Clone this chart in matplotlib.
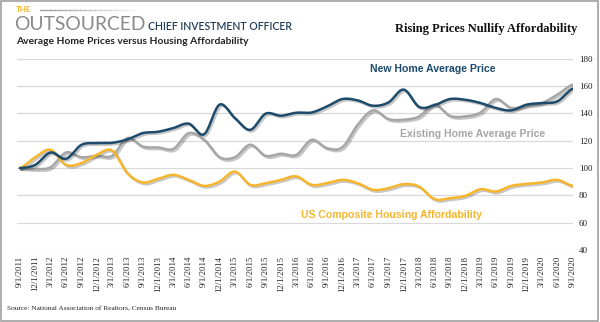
import numpy as np
import matplotlib.pyplot as plt
from matplotlib import patheffects as pe
from matplotlib.lines import Line2D
from matplotlib.patches import Rectangle

quarters = ["9/1/2011", "12/1/2011", "3/1/2012", "6/1/2012", "9/1/2012", "12/1/2012",
            "3/1/2013", "6/1/2013", "9/1/2013", "12/1/2013", "3/1/2014", "6/1/2014",
            "9/1/2014", "12/1/2014", "3/1/2015", "6/1/2015", "9/1/2015", "12/1/2015",
            "3/1/2016", "6/1/2016", "9/1/2016", "12/1/2016", "3/1/2017", "6/1/2017",
            "9/1/2017", "12/1/2017", "3/1/2018", "6/1/2018", "9/1/2018", "12/1/2018",
            "3/1/2019", "6/1/2019", "9/1/2019", "12/1/2019", "3/1/2020", "6/1/2020",
            "9/1/2020"]

new_home = [100, 102.4, 111.4, 106.8, 117, 118.3, 118.5, 121, 125.6, 126.6,
            129.3, 132.5, 124.8, 146.4, 136.6, 128, 139.8, 138.3, 140.5, 140.7,
            145.1, 150.5, 149.5, 145.6, 148, 157.4, 144.7, 146, 150.5, 150,
            147.6, 144, 142.2, 146.4, 147.6, 148.8, 158]

existing_home = [100, 99.3, 100.7, 111.4, 108, 109, 109, 122, 115.8, 115.1,
                 114.1, 125.6, 120.7, 108, 108, 117.1, 109, 110.5, 109.7, 120.7,
                 114.6, 115.3, 131.7, 142.2, 135.9, 135.4, 137.8, 146.4, 138.3, 137.8,
                 140.7, 150.5, 144, 145.6, 147.6, 153.7, 161]

affordability = [100, 108, 113.4, 102.4, 103.7, 109.7, 112.9, 96.3, 89.5, 92.2,
                 95.1, 91.4, 87, 90.2, 97.5, 87.8, 89, 91.4, 94, 87.8,
                 89, 91.4, 89, 84.1, 85.3, 88.3, 86.5, 77.3, 78, 79.7,
                 84.6, 82.9, 87, 88.5, 89.5, 91.4, 87]

y_ticks = [40, 60, 80, 100, 120, 140, 160, 180]

NAVY = "#1d4b6b"
GRAY = "#a6a6a6"
GOLD = "#f7b52c"


def smooth(vals, steps=16):
    # Catmull-Rom curve through every point (like Excel's "smoothed line")
    y = np.asarray(vals, float)
    p = np.concatenate([[y[0]], y, [y[-1]]])
    t = np.linspace(0, 1, steps, endpoint=False)
    xs, ys = [], []
    for i in range(len(y) - 1):
        p0, p1, p2, p3 = p[i:i + 4]
        ys.append(0.5 * (2 * p1 + (p2 - p0) * t
                         + (2 * p0 - 5 * p1 + 4 * p2 - p3) * t ** 2
                         + (3 * p1 - p0 - 3 * p2 + p3) * t ** 3))
        xs.append(i + t)
    xs.append([len(y) - 1])
    ys.append([y[-1]])
    return np.concatenate(xs), np.concatenate(ys)


fig = plt.figure(figsize=(6, 3.22), dpi=100)
W, H = 600, 322

def fx(px):
    return px / W

def fy(py):
    return 1 - py / H

ax = fig.add_axes([fx(17.3), fy(250.2), (573.3 - 17.3) / W, (250.2 - 58.7) / H])

shadow = [pe.SimpleLineShadow(offset=(1.2, -1.2), shadow_color="k", alpha=0.22),
          pe.Normal()]
for vals, col in [(existing_home, GRAY), (affordability, GOLD), (new_home, NAVY)]:
    sx, sy = smooth(vals)
    ax.plot(sx, sy, color=col, lw=1.8, solid_capstyle="round", path_effects=shadow, zorder=3)

ax.set_xlim(-0.17, 36.04)
ax.set_ylim(40, 180)
ax.set_yticks(y_ticks)
ax.yaxis.tick_right()
ax.set_xticks(range(len(quarters)))
ax.set_xticklabels(quarters, rotation=90, fontsize=6.3, family="Liberation Serif", color="#222")
ax.tick_params(axis="x", length=0, pad=4)
ax.tick_params(axis="y", length=0, pad=4, labelsize=6.5, labelcolor="#222")
for lab in ax.get_yticklabels():
    lab.set_family("Liberation Serif")
ax.grid(axis="y", color="#d9d9d9", lw=0.9)
ax.set_axisbelow(True)
for s in ax.spines.values():
    s.set_visible(False)

# series labels
lab_kw = dict(transform=fig.transFigure, ha="center", va="center", fontsize=7.6,
              fontweight="bold", family="Liberation Sans")
ax.text(fx(433), fy(68.5), "New Home Average Price", color=NAVY, **lab_kw)
ax.text(fx(473), fy(134), "Existing Home Average Price", color=GRAY, **lab_kw)
ax.text(fx(392), fy(215), "US Composite Housing Affordability", color=GOLD, **lab_kw)

# header
fig.text(fx(16), fy(10), "THE", color="#f0b323", fontsize=5.8, fontweight="bold",
         family="Lato", va="center")
for k in range(20):
    x0 = 40 + k * 5
    fig.add_artist(Line2D([fx(x0), fx(x0 + 5)], [fy(10), fy(10)], color="#9a9a9a",
                          lw=1, alpha=0.9 * (1 - k / 20)))
fig.text(fx(14), fy(30), "OUTSOURCED", color="#8a8a8a", fontsize=13.9, family="Lato",
         fontweight="normal", va="baseline")
fig.text(fx(148), fy(30), "CHIEF INVESTMENT OFFICER", color="#1f3a55", fontsize=7.6,
         family="Lato", fontweight="semibold", va="baseline")
fig.text(fx(16), fy(41), "Average Home Prices versus Housing Affordability", color="#222",
         fontsize=7.4, family="Lato", fontweight="bold", va="center")
fig.text(fx(577), fy(29), "Rising Prices Nullify Affordability", color="#111",
         fontsize=9, family="Liberation Serif", fontweight="bold", va="center", ha="right")
fig.text(fx(7), fy(309), "Source: National Association of Realtors, Census Bureau",
         color="#222", fontsize=5.3, family="Liberation Serif", va="center")

fig.add_artist(Rectangle((0.002, 0.003), 0.995, 0.994, transform=fig.transFigure,
                         fill=False, ec="#a0a0a0", lw=1.2))

fig.savefig("out.png", dpi=100)
